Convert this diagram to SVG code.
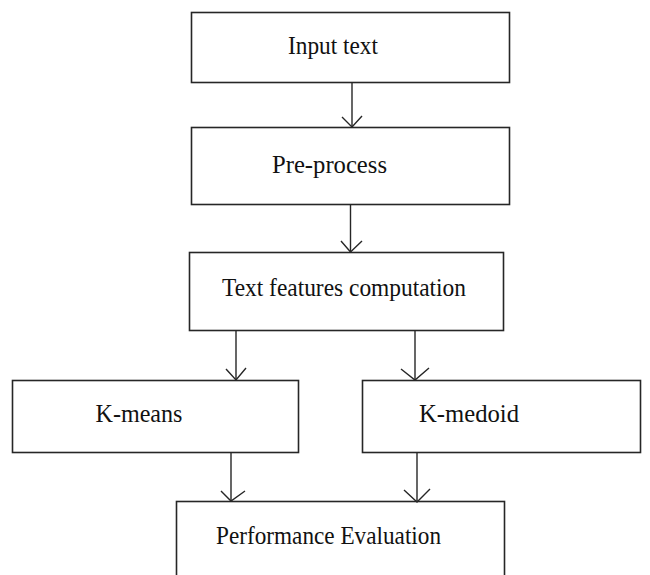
<svg xmlns="http://www.w3.org/2000/svg" width="650" height="575" viewBox="0 0 650 575">
<style>
.box{fill:#fff;stroke:#262626;stroke-width:1.6}
.lbl{font-family:"Liberation Serif","Times New Roman",serif;font-size:26px;fill:#111;text-anchor:middle}
.con line,.con path{stroke:#262626;stroke-width:1.4;fill:none}
</style>
<rect width="650" height="575" fill="#fff"/>
<g id="n1"><rect class="box" x="191.5" y="12.5" width="318" height="70"/><text class="lbl" x="333" y="54" textLength="90" lengthAdjust="spacingAndGlyphs">Input text</text></g>
<g id="n2"><rect class="box" x="191.5" y="127.5" width="318" height="77"/><text class="lbl" x="329.5" y="173" textLength="115" lengthAdjust="spacingAndGlyphs">Pre-process</text></g>
<g id="n3"><rect class="box" x="189.5" y="252.5" width="314" height="78"/><text class="lbl" x="344" y="296" textLength="244" lengthAdjust="spacingAndGlyphs">Text features computation</text></g>
<g id="n4"><rect class="box" x="12.5" y="380.5" width="286" height="72"/><text class="lbl" x="139" y="422" textLength="87" lengthAdjust="spacingAndGlyphs">K-means</text></g>
<g id="n5"><rect class="box" x="362.5" y="380.5" width="278" height="72"/><text class="lbl" x="469" y="422" textLength="100" lengthAdjust="spacingAndGlyphs">K-medoid</text></g>
<g id="n6"><rect class="box" x="176.5" y="501.5" width="328" height="90"/><text class="lbl" x="328.5" y="544" textLength="225" lengthAdjust="spacingAndGlyphs">Performance Evaluation</text></g>
<g class="con" id="connectors">
<line x1="352" y1="82" x2="352" y2="127"/><path d="M342 117 L352 127 L362 116"/>
<line x1="350.5" y1="205" x2="350.5" y2="252"/><path d="M341 241 L350.5 252 L362 241"/>
<line x1="236" y1="331" x2="236" y2="380"/><path d="M226 369 L236 380 L246 368"/>
<line x1="415" y1="331" x2="415" y2="380"/><path d="M401 369 L415 380 L429 368"/>
<line x1="231" y1="453" x2="231" y2="501"/><path d="M221 491 L231 501 L245 491"/>
<line x1="417" y1="453" x2="417" y2="501"/><path d="M404 490 L417 502 L430 489"/>
</g>
</svg>
